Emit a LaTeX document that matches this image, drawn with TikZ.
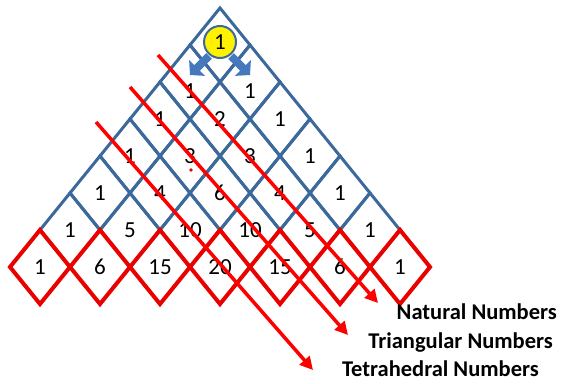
\documentclass[tikz,border=0pt]{standalone}
\usepackage{fontspec}
\setmainfont{Carlito}
\usetikzlibrary{arrows.meta}
\definecolor{gridblue}{RGB}{60,105,155}
\definecolor{arrowblue}{RGB}{70,120,190}
\definecolor{lred}{RGB}{235,0,0}
\begin{document}
\begin{tikzpicture}[x=1pt,y=-1pt,
  bluecell/.style={draw=gridblue, line width=3pt, line join=miter},
  redcell/.style={draw=lred, line width=4pt, line join=miter},
  num/.style={font=\fontsize{23}{27}\selectfont, inner sep=0pt},
  lbl/.style={font=\bfseries\fontsize{22.5}{26}\selectfont, anchor=base east, inner sep=0pt},
  diag/.style={draw=red, line width=3.5pt, -{Triangle[length=13pt,width=13pt]}},
  blockarrow/.style={draw=arrowblue, line width=8pt, -{Triangle[length=10pt,width=22pt]}}]
\useasboundingbox (0,0) rectangle (561,383);
% blue lattice rows 0..5
\foreach \k in {0,...,5}{
  \foreach \j in {0,...,\k}{
    \pgfmathsetmacro\cx{220+30*(2*\j-\k)}
    \pgfmathsetmacro\cy{8+37*(\k+1)}
    \draw[bluecell] (\cx,\cy-37) -- (\cx+30,\cy) -- (\cx,\cy+37) -- (\cx-30,\cy) -- cycle;
  }
}
% red bottom row
\foreach \j in {0,...,6}{
  \pgfmathsetmacro\cx{220+30*(2*\j-6)}
  \pgfmathsetmacro\cy{8+37*7}
  \draw[redcell] (\cx,\cy-37) -- (\cx+30,\cy) -- (\cx,\cy+37) -- (\cx-30,\cy) -- cycle;
}
% numbers
\foreach \k in {1,...,6}{
  \foreach \j in {0,...,\k}{
    \pgfmathsetmacro\cx{220+30*(2*\j-\k)}
    \pgfmathsetmacro\cy{8+37*(\k+1)+(\k==1 ? 9 : 0)}
    \pgfmathtruncatemacro\v{factorial(\k)/(factorial(\j)*factorial(\k-\j))}
    \node[num] (n-\k-\j) at (\cx,\cy) {\v};
  }
}
% top circle
\node[circle, fill=yellow, draw=gridblue, line width=2pt, minimum size=32pt, inner sep=0pt,
      font=\fontsize{23}{27}\selectfont] (top) at (220,42) {1};
% block arrows
\coordinate (la0) at (209,56);
\coordinate (la1) at (190,75);
\coordinate (ra0) at (231,56);
\coordinate (ra1) at (250,75);
\draw[blockarrow] (la0) -- (la1);
\draw[blockarrow] (ra0) -- (ra1);
% red dot
\fill[lred] (191,170) circle (1.8);
% labels
\node[lbl] (nat) at (557,319) {Natural Numbers};
\node[lbl] (tri) at (553,348) {Triangular Numbers};
\node[lbl] (tet) at (539,376) {Tetrahedral Numbers};
% diagonal red arrows
\coordinate (d1s) at (158,55);
\coordinate (d1e) at (378,303);
\coordinate (d2s) at (130,87);
\coordinate (d2e) at (348,335);
\coordinate (d3s) at (96,122);
\coordinate (d3e) at (313,370);
\draw[diag] (d1s) -- (d1e);
\draw[diag] (d2s) -- (d2e);
\draw[diag] (d3s) -- (d3e);
\end{tikzpicture}
\end{document}
